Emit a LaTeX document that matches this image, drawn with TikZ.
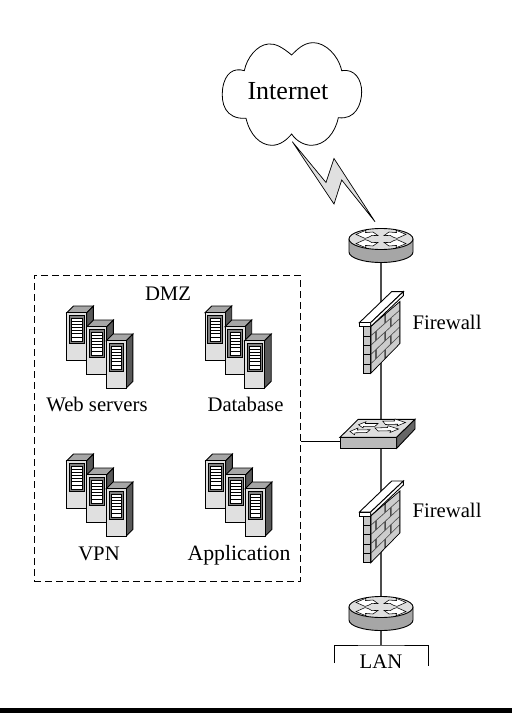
\documentclass[tikz,border=0pt]{standalone}
\usepackage{fontspec}
\setmainfont{Liberation Serif}
\tikzset{
  lbl/.style={inner sep=0pt,anchor=base,font=\fontsize{20.7bp}{23bp}\selectfont},
  conn/.style={draw=black!70,line width=1.1bp},
  dev/.style={draw=black,line width=.9bp,line join=miter},
  arrw/.style={draw=black,fill=white,line width=.55bp,line join=miter},
  declare function={fwx(\u)=29.3*\u; fwy(\u,\v)=(1-\v)*(-46.7-25*\u)+\v*(-30*\u);},
  rtr/.pic={
    \path[dev,fill=black!35] (-32,-6) -- (-32,7) arc[start angle=180,end angle=0,x radius=32,y radius=10.5] -- (32,-6) -- cycle;
    \path[dev,fill=black!13] (0,-6) ellipse[x radius=32,y radius=10.5];
    \foreach \sx/\sy in {1/1,-1/1,1/-1,-1/-1}{
      \begin{scope}[shift={(0,-6)},xscale=\sx,yscale=\sy]
        \path[arrw] (-25,-4.6) -- (-15,-8.8) -- (-15.5,-6.4) -- (-8,-7) -- (-3,-3.4) -- (-9,-3.6) -- (-13,-1.5) -- (-16,-.6) -- cycle;
      \end{scope}
    }
  },
  swi/.pic={
    \path[dev,fill=black!13] (-41,3.3) -- (-22.7,-14.7) -- (34,-14.7) -- (15.7,3.3) -- cycle;
    \path[dev,fill=black!27] (-41,3.3) rectangle (15.7,14.3);
    \path[dev,fill=black!60] (15.7,3.3) -- (34,-14.7) -- (34,-5) -- (15.7,14.3) -- cycle;
    \path[arrw] (-22.5,-9.3) -- (-15,-12.3) -- (-15.7,-10.5) -- (-3,-10.5) -- (-6,-7.7) -- (-17.5,-7.7) -- (-18,-6) -- cycle;
    \path[arrw] (-31,-2.6) -- (-23,-6) -- (-23.7,-4) -- (-11,-4.3) -- (-14,-1.5) -- (-26,-1.2) -- (-26.5,.8) -- cycle;
    \path[arrw] (24.5,-11.5) -- (16,-8) -- (16.7,-9.8) -- (4.5,-9.5) -- (1.8,-12.8) -- (13.5,-13) -- (14,-15) -- cycle;
    \path[arrw] (17.5,-5) -- (9,-1.5) -- (9.7,-3.3) -- (-3,-3) -- (-6,-6) -- (6.5,-6.5) -- (7,-8.3) -- cycle;
  },
  fwl/.pic={
    \begin{scope}[shift={(-10.3,40.3)}]
      \path[dev,fill=black!22] (-7.7,-46.7) rectangle (0,0);
      \foreach \k in {1,...,4} \draw[line width=.8bp] (-7.7,-9.34*\k) -- (0,-9.34*\k);
      \path[dev,fill=black!70] ({fwx(0)},{fwy(0,0)}) -- ({fwx(1)},{fwy(1,0)}) -- ({fwx(1)},{fwy(1,1)}) -- ({fwx(0)},{fwy(0,1)}) -- cycle;
      \foreach \r/\list in {0/{0/.5,.5/1},1/{0/.18,.18/.68,.68/1},2/{0/.5,.5/1},3/{0/.18,.18/.68,.68/1},4/{0/.5,.5/1}}{
        \foreach \a/\b in \list {
          \pgfmathsetmacro{\vA}{\r/5+.015}
          \pgfmathsetmacro{\vB}{(\r+1)/5-.015}
          \pgfmathsetmacro{\uA}{\a+.03}
          \pgfmathsetmacro{\uB}{\b-.03}
          \fill[black!20] ({fwx(\uA)},{fwy(\uA,\vA)}) -- ({fwx(\uB)},{fwy(\uB,\vA)}) -- ({fwx(\uB)},{fwy(\uB,\vB)}) -- ({fwx(\uA)},{fwy(\uA,\vB)}) -- cycle;
        }
      }
      \path[dev,fill=white] (-11.3,-50.7) -- (21,-81.7) -- (32.7,-81.7) -- (0,-50.7) -- cycle;
      \path[dev,fill=white] (-11.3,-50.7) rectangle (0,-46.7);
      \path[dev,fill=white] (0,-50.7) -- (32.7,-81.7) -- (32.7,-77.7) -- (0,-46.7) -- cycle;
    \end{scope}
  },
  onesrv/.pic={
    \path[dev,fill=black!35] (0,0) -- (6.7,-6.7) -- (26.7,-6.7) -- (20,0) -- cycle;
    \path[dev,fill=black!65] (20,0) -- (26.7,-6.7) -- (26.7,40.6) -- (20,47.3) -- cycle;
    \path[dev,fill=black!12] (0,0) rectangle (20,47.3);
    \path[draw=black,line width=.6bp,fill=black!50] (2.7,3) rectangle (17.3,31);
    \path[draw=black,line width=.5bp,fill=white] (5,5.3) rectangle (15.3,28.6);
    \foreach \y in {8.5,11.5,18,21,24.5} \draw[line width=.6bp] (5,\y) -- (15.3,\y);
    \draw[line width=1.5bp] (5,14.7) -- (15.3,14.7);
  },
  srvs/.pic={
    \pic at (0,0) {onesrv};
    \pic at (20,14) {onesrv};
    \pic at (39.5,28) {onesrv};
  }
}
\begin{document}
\begin{tikzpicture}[x=1bp,y=-1bp]
\useasboundingbox (0,0) rectangle (512,713);
\fill[white] (0,0) rectangle (512,713);
\fill[black] (0,708) rectangle (512,713);

\coordinate (r1) at (381,245);
\coordinate (fw1) at (381,333);
\coordinate (sw) at (381,434);
\coordinate (fw2) at (381,522.4);
\coordinate (r2) at (381,613);
\coordinate (lanbar) at (381,645);
\coordinate (lanL) at (334.7,663);
\coordinate (lanR) at (428.7,666);
\coordinate (dmzlink) at (300.5,441);
\coordinate (swlink) at (340,441);
\coordinate (boltA) at (292.3,141.7);
\coordinate (boltB) at (375,221.7);

\draw[conn] (r1) -- (fw1) -- (sw) -- (fw2) -- (r2) -- (lanbar);
\draw[line width=.9bp] (lanL) |- (lanbar) -| (lanR);
\draw[line width=.9bp] (dmzlink) -- (swlink);

\node[draw=black,dash pattern=on 7bp off 4bp,line width=.8bp,minimum width=266.5bp,minimum height=306bp,inner sep=0pt] (dmz) at (167.3,428) {};

\begin{scope}[shift={(200,30)},scale=1/3]
\path[draw=black,line width=.8bp,fill=white] (275,75) .. controls (245,50) and (225,40) .. (205,42)
  .. controls (170,45) and (140,85) .. (133,122)
  .. controls (100,112) and (75,130) .. (68,175)
  .. controls (62,220) and (75,268) .. (138,265)
  .. controls (150,315) and (180,345) .. (215,346)
  .. controls (240,346) and (260,330) .. (275,312)
  .. controls (290,335) and (315,346) .. (335,346)
  .. controls (375,345) and (405,310) .. (415,263)
  .. controls (465,270) and (485,225) .. (485,185)
  .. controls (485,150) and (465,115) .. (425,122)
  .. controls (415,75) and (375,38) .. (340,38)
  .. controls (310,38) and (290,60) .. (275,75) -- cycle;
\end{scope}
\node[lbl,font=\fontsize{26bp}{28bp}\selectfont] (inet) at (288,100) {Internet};

\path[draw=black,line width=.7bp,fill=black!12,line join=miter] (boltA) -- (326,182.5) -- (334,158.5) -- (boltB) -- (341.7,180) -- (334,204) -- cycle;

\pic at (r1) {rtr};
\pic at (fw1) {fwl};
\pic at (sw) {swi};
\pic at (fw2) {fwl};
\pic at (r2) {rtr};

\pic at (66.7,312.7) {srvs};
\pic at (205,312.7) {srvs};
\pic at (66.7,460.7) {srvs};
\pic at (205.7,460.7) {srvs};

\node[lbl] (fwa) at (447,329) {Firewall};
\node[lbl] (fwb) at (447,517.7) {Firewall};
\node[lbl] (lan) at (381,668.3) {LAN};
\node[lbl] (dmzl) at (168,300) {DMZ};
\node[lbl] (web) at (97,411.7) {Web servers};
\node[lbl] (db) at (245.5,411.7) {Database};
\node[lbl] (vpn) at (99,560.7) {VPN};
\node[lbl,font=\fontsize{21.8bp}{23bp}\selectfont] (app) at (239,560.7) {Application};
\end{tikzpicture}
\end{document}
